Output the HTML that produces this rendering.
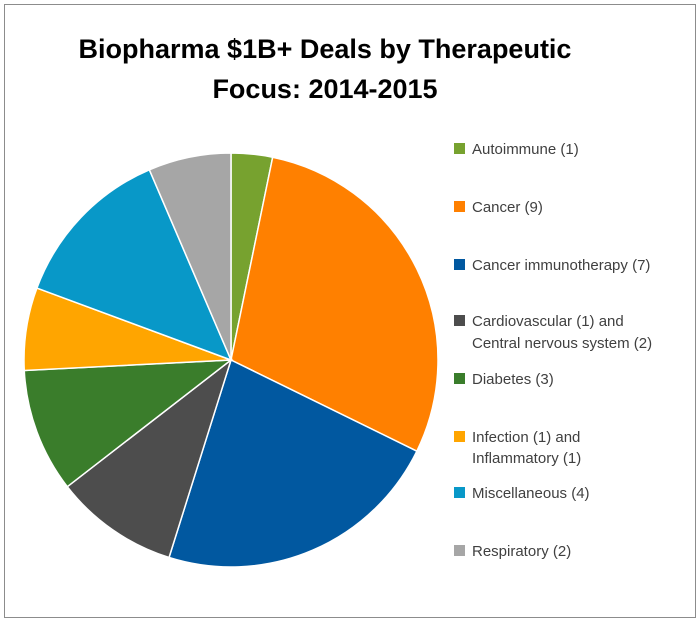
<!DOCTYPE html>
<html><head><style>
body{margin:0;background:#fff;}
svg{display:block;}
text{font-family:"Liberation Sans",Calibri,sans-serif;}
</style></head><body>
<svg id="s" width="700" height="623" xmlns="http://www.w3.org/2000/svg">
<rect x="0" y="0" width="700" height="623" fill="#fff"/>
<rect x="4.5" y="4.5" width="691" height="613" fill="#fff" stroke="#8c8c8c" stroke-width="1"/>
<text x="325" y="58" text-anchor="middle" font-size="27" font-weight="bold" fill="#000">Biopharma $1B+ Deals by Therapeutic</text>
<text x="325" y="98" text-anchor="middle" font-size="27" font-weight="bold" fill="#000">Focus: 2014-2015</text>
<g id="pie"></g>
<g font-size="15" fill="#404040">
<rect x="454" y="143" width="11" height="11" fill="#77a22f"/><text x="472" y="154">Autoimmune (1)</text>
<rect x="454" y="201" width="11" height="11" fill="#ff8000"/><text x="472" y="212">Cancer (9)</text>
<rect x="454" y="259" width="11" height="11" fill="#0158a0"/><text x="472" y="270">Cancer immunotherapy (7)</text>
<rect x="454" y="315" width="11" height="11" fill="#4d4d4d"/><text x="472" y="326">Cardiovascular (1) and</text><text x="472" y="348">Central nervous system (2)</text>
<rect x="454" y="373" width="11" height="11" fill="#3a7d2b"/><text x="472" y="384">Diabetes (3)</text>
<rect x="454" y="431" width="11" height="11" fill="#ffa500"/><text x="472" y="442">Infection (1) and</text><text x="472" y="463">Inflammatory (1)</text>
<rect x="454" y="487" width="11" height="11" fill="#0898c8"/><text x="472" y="498">Miscellaneous (4)</text>
<rect x="454" y="545" width="11" height="11" fill="#a6a6a6"/><text x="472" y="556">Respiratory (2)</text>
</g>
</svg>
<script>
var d=[[1,"#77a22f"],[9,"#ff8000"],[7,"#0158a0"],[3,"#4d4d4d"],[3,"#3a7d2b"],[2,"#ffa500"],[4,"#0898c8"],[2,"#a6a6a6"]];
var cx=231,cy=360,r=207,t=31,a=-Math.PI/2,g=document.getElementById("pie"),h="";
d.forEach(function(e){var b=a+e[0]/t*2*Math.PI;
var x1=cx+r*Math.cos(a),y1=cy+r*Math.sin(a),x2=cx+r*Math.cos(b),y2=cy+r*Math.sin(b);
h+='<path d="M'+cx+' '+cy+'L'+x1+' '+y1+'A'+r+' '+r+' 0 '+((b-a)>Math.PI?1:0)+' 1 '+x2+' '+y2+'Z" fill="'+e[1]+'" stroke="#fff" stroke-width="1.5"/>';a=b;});
g.innerHTML=h;
</script>
</body></html>
